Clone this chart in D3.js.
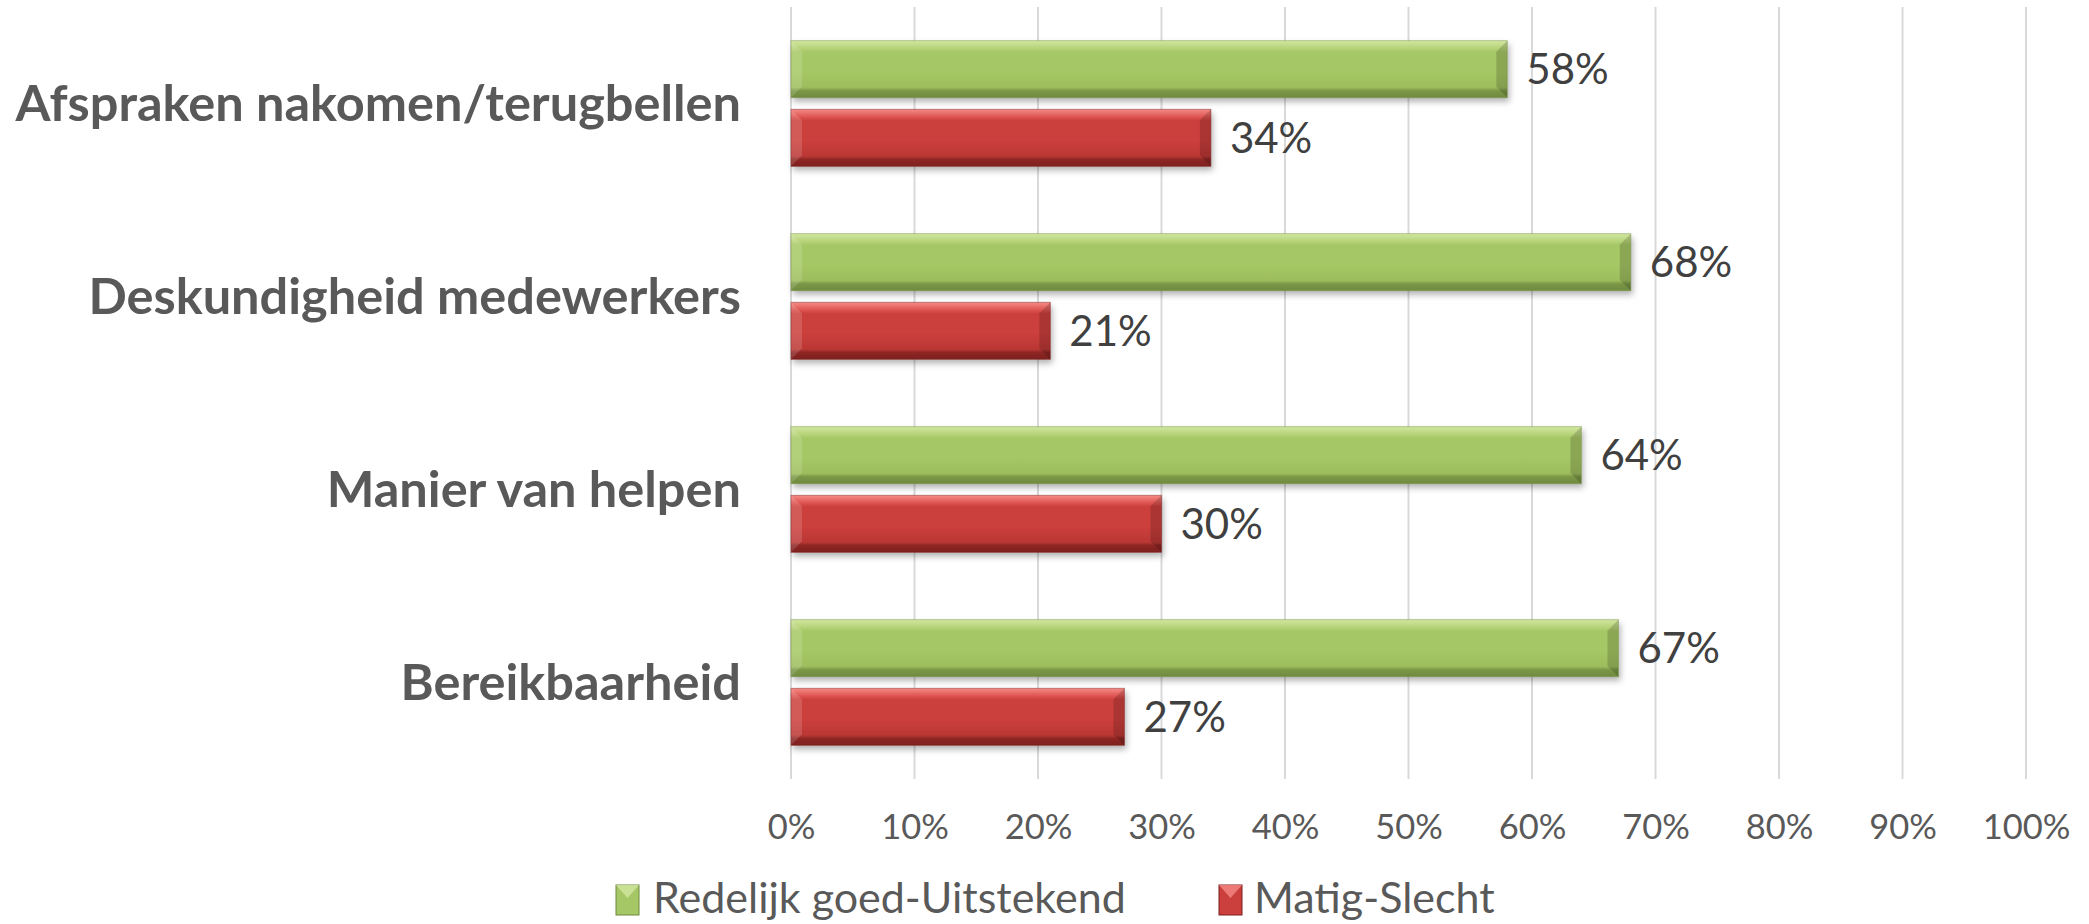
<!DOCTYPE html>
<html>
<head>
<meta charset="utf-8">
<script src="https://cdn.jsdelivr.net/npm/d3@7"></script>
<style>
  html, body { margin: 0; padding: 0; background: #ffffff; }
  svg { display: block; }
  text { font-family: Lato, "Open Sans", "Liberation Sans", sans-serif; }
</style>
</head>
<body>
<svg id="chart" width="2089" height="924"></svg>
<script>
// ---- data ----
const categories = ["Afspraken nakomen/terugbellen", "Deskundigheid medewerkers", "Manier van helpen", "Bereikbaarheid"];
const seriesNames = ["Redelijk goed-Uitstekend", "Matig-Slecht"];
const goodValues = [58, 68, 64, 67];
const badValues = [34, 21, 30, 27];
const tickValues = [0, 10, 20, 30, 40, 50, 60, 70, 80, 90, 100];
const tickLabels = ["0%", "10%", "20%", "30%", "40%", "50%", "60%", "70%", "80%", "90%", "100%"];

const svg = d3.select("#chart");
const plot = { left: 791, right: 2026, top: 7, bottom: 779 };

const x = d3.scaleLinear().domain([0, 100]).range([plot.left, plot.right]);
const y = d3.scaleBand().domain(categories).range([plot.top, plot.bottom]).paddingInner(0).paddingOuter(0);
const ySub = d3.scaleBand().domain(seriesNames).range([0, y.bandwidth()]).paddingInner(0.17).paddingOuter(0.49);

const palette = {
  "Redelijk goed-Uitstekend": { top: "#d2e7a0", hi: "#b5d277", mid: "#a6c765", lo: "#9dbd5d", dark: "#7b9746", edge: "#6f8a3e" },
  "Matig-Slecht": { top: "#f58a86", hi: "#dc524e", mid: "#cb3f3c", lo: "#bb3734", dark: "#8e2624", edge: "#7d201e" }
};

const defs = svg.append("defs");
seriesNames.forEach((s, i) => {
  const p = palette[s];
  const g = defs.append("linearGradient").attr("id", "grad" + i).attr("x1", 0).attr("y1", 0).attr("x2", 0).attr("y2", 1);
  [[0, p.top], [0.14, p.hi], [0.2, p.mid], [0.55, p.mid], [0.82, p.lo], [0.88, p.dark], [1, p.edge]].forEach(([o, c]) =>
    g.append("stop").attr("offset", o).attr("stop-color", c));
});
const f = defs.append("filter").attr("id", "shadow").attr("x", "-5%").attr("y", "-30%").attr("width", "110%").attr("height", "170%");
f.append("feDropShadow").attr("dx", 2).attr("dy", 4).attr("stdDeviation", 3).attr("flood-color", "#000").attr("flood-opacity", 0.3);

// gridlines
svg.append("g").selectAll("line").data(tickValues).join("line")
  .attr("x1", d => x(d)).attr("x2", d => x(d))
  .attr("y1", plot.top).attr("y2", plot.bottom)
  .attr("stroke", "#d9d9d9").attr("stroke-width", 2);

// x axis labels
const xAxis = d3.axisBottom(x).tickValues(tickValues).tickFormat((d, i) => tickLabels[i]).tickSize(0).tickPadding(0);
const xg = svg.append("g").attr("transform", `translate(0, ${plot.bottom})`).call(xAxis);
xg.select(".domain").remove();
xg.selectAll("text").attr("dy", null).attr("y", 60).attr("fill", "#595959").style("font-size", "34.5px")
  .style("font-family", "Lato, 'Open Sans', sans-serif");

// y axis labels
const yAxis = d3.axisLeft(y).tickSize(0).tickPadding(0);
const yg = svg.append("g").attr("transform", `translate(741, 0)`).call(yAxis);
yg.select(".domain").remove();
yg.selectAll("text").attr("x", 0).attr("dy", "0.35em").attr("fill", "#595959")
  .style("font-size", "50.5px").style("font-weight", "bold")
  .style("font-family", "Lato, 'Open Sans', sans-serif");

// bars
const rows = [];
categories.forEach((c, ci) => {
  rows.push({ cat: c, series: seriesNames[0], si: 0, value: goodValues[ci] });
  rows.push({ cat: c, series: seriesNames[1], si: 1, value: badValues[ci] });
});

const bars = svg.append("g").selectAll("g").data(rows).join("g");
bars.each(function(d) {
  const g = d3.select(this);
  const x0 = x(0), x1 = x(d.value);
  const y0 = y(d.cat) + ySub(d.series), h = ySub.bandwidth(), y1 = y0 + h;
  const p = palette[d.series];
  const b = 11;
  g.append("rect").attr("x", x0).attr("y", y0).attr("width", x1 - x0).attr("height", h)
    .attr("fill", `url(#grad${d.si})`).attr("filter", "url(#shadow)");
  // left bevel (lighter)
  g.append("polygon").attr("points", `${x0},${y0} ${x0 + b},${y0 + b} ${x0 + b},${y1 - b} ${x0},${y1}`)
    .attr("fill", "#ffffff").attr("opacity", 0.14);
  // right bevel (darker)
  g.append("polygon").attr("points", `${x1},${y0} ${x1 - b},${y0 + b} ${x1 - b},${y1 - b} ${x1},${y1}`)
    .attr("fill", "#000000").attr("opacity", 0.16);
  g.append("rect").attr("x", x0).attr("y", y0).attr("width", x1 - x0).attr("height", h)
    .attr("fill", "none").attr("stroke", p.edge).attr("stroke-opacity", 0.45).attr("stroke-width", 1);
  // data label
  g.append("text").attr("x", x1 + 19).attr("y", y0 + h / 2).attr("dy", "0.36em")
    .attr("fill", "#404040").style("font-size", "42px").text(d.value + "%");
});

// legend
const legendItems = [
  { name: seriesNames[0], si: 0, mx: 616, tx: 653 },
  { name: seriesNames[1], si: 1, mx: 1219, tx: 1254 }
];
const lg = svg.append("g").selectAll("g").data(legendItems).join("g");
lg.append("rect").attr("x", d => d.mx).attr("y", 885).attr("width", 23).attr("height", 30)
  .attr("fill", d => palette[d.name].mid).attr("stroke", d => palette[d.name].edge).attr("stroke-width", 1);
lg.append("polygon").attr("points", d => `${d.mx},885 ${d.mx + 23},885 ${d.mx + 11.5},898`)
  .attr("fill", d => palette[d.name].top).attr("opacity", 0.8);
lg.append("text").attr("x", d => d.tx).attr("y", 898).attr("dy", "0.35em")
  .attr("fill", "#595959").style("font-size", "43px").text(d => d.name);
</script>
</body>
</html>
